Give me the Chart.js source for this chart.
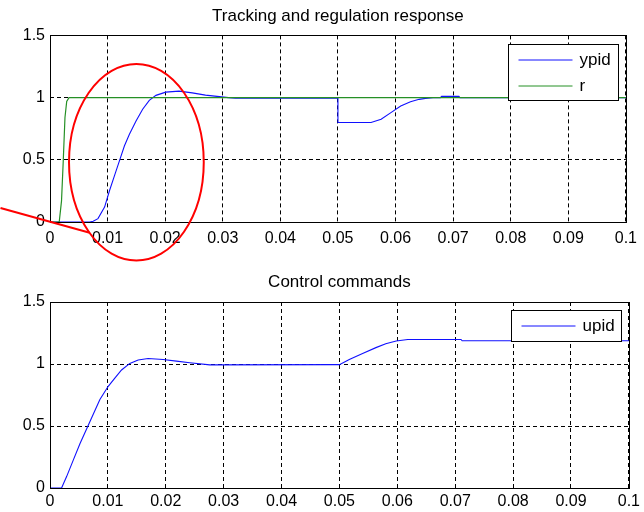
<!DOCTYPE html>
<html>
<head>
<meta charset="utf-8">
<script src="https://cdn.jsdelivr.net/npm/chart.js@4.4.0/dist/chart.umd.min.js"></script>
<style>
  html, body { margin: 0; padding: 0; background: #fff; }
  #wrap { position: relative; width: 644px; height: 512px; overflow: hidden; background: #fff; }
  #c1box { position: absolute; left: 0; top: 0; width: 644px; height: 270px; z-index: 2; }
  #c2box { position: absolute; left: 0; top: 256px; width: 644px; height: 256px; z-index: 1; }
</style>
</head>
<body>
<div id="wrap">
  <div id="c2box"><canvas id="c2"></canvas></div>
  <div id="c1box"><canvas id="c1"></canvas></div>
</div>
<script>
// ---------- data ----------
const xTickValues = [0, 0.01, 0.02, 0.03, 0.04, 0.05, 0.06, 0.07, 0.08, 0.09, 0.1];
const xTickLabels = ["0", "0.01", "0.02", "0.03", "0.04", "0.05", "0.06", "0.07", "0.08", "0.09", "0.1"];
const yTickValues = [0, 0.5, 1, 1.5];
const yTickLabels = ["0", "0.5", "1", "1.5"];

const topTitle = "Tracking and regulation response";
const bottomTitle = "Control commands";

// ypid: plant output
const ypidT = [0, 0.0069, 0.0075, 0.00833, 0.00948, 0.01034, 0.0112, 0.01207, 0.01293, 0.01379, 0.01494, 0.01609, 0.01724, 0.0184, 0.0201, 0.0224, 0.0247, 0.027, 0.029, 0.031, 0.0322, 0.05, 0.05, 0.05575, 0.0575, 0.0592, 0.0609, 0.0626, 0.0641, 0.0652, 0.0665, 0.0678, 0.068, 0.071, 0.0712, 0.1];
const ypidY = [0, 0, 0.006, 0.027, 0.12, 0.253, 0.373, 0.493, 0.613, 0.706, 0.812, 0.906, 0.978, 1.018, 1.044, 1.052, 1.038, 1.02, 1.01, 1.0, 0.995, 0.995, 0.8, 0.8, 0.826, 0.879, 0.932, 0.966, 0.986, 0.994, 1.0, 1.0, 1.01, 1.01, 1.0, 1.0];

// r: reference
const rT = [0, 0.0016, 0.002, 0.0023, 0.0026, 0.0029, 0.0033, 0.1];
const rY = [0, 0, 0.17, 0.49, 0.84, 0.97, 1, 1];

// upid: control command
const upidT = [0, 0.002, 0.00287, 0.00402, 0.00517, 0.00632, 0.00747, 0.00862, 0.01006, 0.0112, 0.01236, 0.01379, 0.01523, 0.01695, 0.01954, 0.02184, 0.02414, 0.02759, 0.05, 0.0517, 0.054, 0.0563, 0.058, 0.0598, 0.0618, 0.071, 0.0712, 0.1];
const upidY = [0, 0, 0.092, 0.225, 0.357, 0.476, 0.595, 0.714, 0.82, 0.886, 0.952, 1.005, 1.032, 1.044, 1.036, 1.023, 1.01, 0.993, 0.995, 1.037, 1.084, 1.132, 1.163, 1.185, 1.198, 1.198, 1.187, 1.187];

// red hand-drawn annotation (data units of the top plot)
const ellipseCenter = [0.015, 0.48];
const ellipseRadius = [0.0117, 0.79];
const pointerFrom = [-0.0086, 0.112];
const pointerTo = [0.0069, -0.086];

// ---------- helpers ----------
const toXY = (ts, ys) => ts.map((t, i) => ({ x: t, y: ys[i] }));
const TICK_FONT = { family: '"Liberation Sans Narrow", "Liberation Sans", Arial, sans-serif', size: 16 };
const TEXT_FONT = '"Liberation Sans", Arial, sans-serif';

const boxPlugin = {
  id: 'boxPlugin',
  afterDatasetsDraw(chart) {
    const a = chart.chartArea, ctx = chart.ctx;
    ctx.save();
    ctx.strokeStyle = '#000';
    ctx.lineWidth = 1;
    ctx.setLineDash([]);
    ctx.strokeRect(Math.round(a.left) + 0.5, Math.round(a.top) + 0.5, Math.round(a.right - a.left), Math.round(a.bottom - a.top));
    ctx.restore();
  }
};

const legendPlugin = {
  id: 'matLegend',
  afterDatasetsDraw(chart, args, opts) {
    const a = chart.chartArea, ctx = chart.ctx;
    const items = opts.items;
    const w = 110, rowH = 26;
    const h = items.length === 1 ? 31 : 56;
    const x0 = Math.round(a.right - opts.right - w) + 0.5;
    const y0 = Math.round(a.top + opts.top) + 0.5;
    ctx.save();
    ctx.fillStyle = '#fff';
    ctx.fillRect(x0, y0, w, h);
    ctx.strokeStyle = '#000';
    ctx.lineWidth = 1;
    ctx.setLineDash([]);
    ctx.strokeRect(x0, y0, w, h);
    ctx.font = '17px ' + TEXT_FONT;
    ctx.textBaseline = 'middle';
    ctx.textAlign = 'left';
    items.forEach((it, i) => {
      const ds = chart.data.datasets.find(d => d.label === it);
      const cy = Math.round(y0 + (items.length === 1 ? h / 2 : 15 + i * rowH));
      ctx.strokeStyle = ds.borderColor;
      ctx.beginPath();
      ctx.moveTo(x0 + 10, cy);
      ctx.lineTo(x0 + 64, cy);
      ctx.stroke();
      ctx.fillStyle = '#000';
      ctx.fillText(it, x0 + 71, cy);
    });
    ctx.restore();
  }
};

const annotationPlugin = {
  id: 'redMark',
  afterDraw(chart, args, opts) {
    if (!opts.enabled) return;
    const xs = chart.scales.x, ys = chart.scales.y, ctx = chart.ctx;
    const cx = xs.getPixelForValue(ellipseCenter[0]);
    const cy = ys.getPixelForValue(ellipseCenter[1]);
    const rx = Math.abs(xs.getPixelForValue(ellipseCenter[0] + ellipseRadius[0]) - cx);
    const ry = Math.abs(ys.getPixelForValue(ellipseCenter[1] + ellipseRadius[1]) - cy);
    ctx.save();
    ctx.strokeStyle = '#ff0000';
    ctx.lineWidth = 2;
    ctx.beginPath();
    ctx.ellipse(cx, cy, rx, ry, 0, 0, Math.PI * 2);
    ctx.stroke();
    ctx.beginPath();
    ctx.moveTo(xs.getPixelForValue(pointerFrom[0]), ys.getPixelForValue(pointerFrom[1]));
    ctx.lineTo(xs.getPixelForValue(pointerTo[0]), ys.getPixelForValue(pointerTo[1]));
    ctx.stroke();
    ctx.restore();
  }
};

function makeOptions(cfg) {
  const axisCommon = {
    type: 'linear',
    grid: { color: '#000', lineWidth: 1, drawTicks: false, tickLength: 0 },
    border: { display: false, dash: [4, 3] }
  };
  return {
    responsive: false,
    animation: false,
    devicePixelRatio: 1,
    layout: { padding: { left: 0, right: 14, top: 0, bottom: 0 } },
    plugins: {
      legend: { display: false },
      tooltip: { enabled: false },
      title: {
        display: true,
        fullSize: false,
        text: cfg.title,
        color: '#000',
        font: { family: TEXT_FONT, size: 17, weight: 'normal', lineHeight: 1.2 },
        padding: { top: cfg.titleTop, bottom: cfg.titleBottom }
      },
      matLegend: { items: cfg.legendItems, right: 8, top: cfg.legendTop },
      redMark: { enabled: cfg.annotate }
    },
    elements: { point: { radius: 0 }, line: { tension: 0, borderWidth: 1 } },
    scales: {
      x: Object.assign({}, axisCommon, {
        min: 0, max: 0.1,
        afterBuildTicks: s => { s.ticks = xTickValues.map(v => ({ value: v })); },
        afterFit: s => { s.height = cfg.xAxisHeight; },
        ticks: {
          color: '#000', font: TICK_FONT, padding: cfg.xTickPad,
          autoSkip: false, maxRotation: 0,
          callback: (v, i) => xTickLabels[i]
        }
      }),
      y: Object.assign({}, axisCommon, {
        min: 0, max: 1.5,
        afterBuildTicks: s => { s.ticks = yTickValues.map(v => ({ value: v })); },
        afterFit: s => { s.width = 50; },
        ticks: {
          color: '#000', font: TICK_FONT, padding: 5,
          callback: (v, i) => yTickLabels[i]
        }
      })
    }
  };
}

const opts1 = makeOptions({
  title: topTitle, titleTop: 6, titleBottom: 9, legendItems: ['ypid', 'r'], legendTop: 9,
  xAxisHeight: 48, xTickPad: 7, annotate: true
});
const opts2 = makeOptions({
  title: bottomTitle, titleTop: 16, titleBottom: 9.6, legendItems: ['upid'], legendTop: 8,
  xAxisHeight: 24, xTickPad: 4, annotate: false
});

const c1 = document.getElementById('c1');
c1.width = 644; c1.height = 270;
const c2 = document.getElementById('c2');
c2.width = 644; c2.height = 256;

new Chart(c1, {
  type: 'line',
  data: {
    datasets: [
      { label: 'ypid', data: toXY(ypidT, ypidY), borderColor: '#1010ff', borderWidth: 1.1, fill: false, order: 1 },
      { label: 'r', data: toXY(rT, rY), borderColor: '#259025', borderWidth: 1.2, fill: false, order: 0 }
    ]
  },
  options: opts1,
  plugins: [boxPlugin, legendPlugin, annotationPlugin]
});

new Chart(c2, {
  type: 'line',
  data: {
    datasets: [
      { label: 'upid', data: toXY(upidT, upidY), borderColor: '#1010ff', borderWidth: 1.1, fill: false }
    ]
  },
  options: opts2,
  plugins: [boxPlugin, legendPlugin]
});
</script>
</body>
</html>
